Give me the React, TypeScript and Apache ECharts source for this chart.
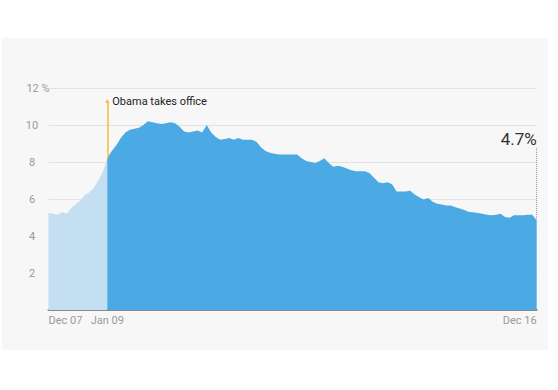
import React, { useEffect, useRef } from "react";
import * as echarts from "echarts";

const monthNames = ["Jan", "Feb", "Mar", "Apr", "May", "Jun", "Jul", "Aug", "Sep", "Oct", "Nov", "Dec"];
const startYear = 2007;
const startMonth = 11; // Dec
const unemployment = [
  5.25, 5.2, 5.15, 5.3, 5.2, 5.5, 5.7, 5.9, 6.2, 6.35, 6.6, 7.0, 7.45, 8.2,
  8.6, 8.9, 9.3, 9.6, 9.75, 9.8, 9.85, 10.0, 10.2, 10.15, 10.1, 10.05, 10.1, 10.15,
  10.1, 9.9, 9.65, 9.6, 9.65, 9.7, 9.6, 10.0, 9.6, 9.35, 9.2, 9.25, 9.3, 9.2,
  9.3, 9.2, 9.2, 9.2, 9.1, 8.8, 8.6, 8.5, 8.45, 8.4, 8.4, 8.4, 8.4, 8.4,
  8.2, 8.05, 8.0, 7.95, 8.05, 8.2, 7.95, 7.75, 7.8, 7.75, 7.65, 7.55, 7.5, 7.5,
  7.5, 7.4, 7.15, 6.9, 6.85, 6.9, 6.8, 6.4, 6.4, 6.4, 6.45, 6.25, 6.1, 5.97,
  6.05, 5.85, 5.75, 5.7, 5.65, 5.65, 5.55, 5.48, 5.4, 5.3, 5.28, 5.25, 5.2, 5.15,
  5.12, 5.15, 5.2, 5.03, 4.98, 5.12, 5.12, 5.12, 5.15, 5.15, 4.85,
];
const categories = unemployment.map((_, i) => {
  const m = startMonth + i;
  const y = startYear + Math.floor(m / 12);
  return `${monthNames[m % 12]} ${String(y % 100).padStart(2, "0")}`;
});
const obamaIndex = 13;
const shownLabels = [0, 13, unemployment.length - 1];
const annotationText = "Obama takes office";
const lastValueText = "4.7%";
const yTicks = [0, 2, 4, 6, 8, 10, 12];

export default function App() {
  const ref = useRef<HTMLDivElement>(null);
  useEffect(() => {
    if (!ref.current) return;
    const chart = echarts.init(ref.current, null, { renderer: "svg" });
    const lightData = unemployment.map((v, i) => (i <= obamaIndex ? v : null));
    const darkData = unemployment.map((v, i) => (i >= obamaIndex ? v : null));
    const last = categories[categories.length - 1];
    const font = "Roboto, 'Open Sans', sans-serif";
    chart.setOption({
      animation: false,
      backgroundColor: "transparent",
      textStyle: { fontFamily: font },
      grid: { left: 48.5, right: 21.3, top: 88, bottom: 80, containLabel: false },
      xAxis: {
        type: "category",
        data: categories,
        boundaryGap: false,
        axisLine: { show: true, lineStyle: { color: "#8a8a8a", width: 2 } },
        axisTick: { show: false },
        splitLine: { show: false },
        axisLabel: {
          show: true,
          interval: (idx: number) => shownLabels.includes(idx),
          color: "#9a9a9a",
          fontSize: 11,
          fontFamily: font,
          margin: 5,
          alignMinLabel: "left",
          alignMaxLabel: "right",
        },
      },
      yAxis: {
        type: "value",
        min: yTicks[0],
        max: yTicks[yTicks.length - 1],
        interval: 2,
        axisLine: { show: false },
        axisTick: { show: false },
        splitLine: { show: true, lineStyle: { color: "#e2e2e2", width: 1 } },
        axisLabel: {
          show: true,
          showMinLabel: false,
          align: "center",
          margin: 16.5,
          color: "#9a9a9a",
          fontSize: 11,
          fontFamily: font,
          formatter: (v: number) => (v === 12 ? "{p|12 %}" : String(v)),
          rich: {
            p: { padding: [0, 0, 0, 12], color: "#9a9a9a", fontSize: 11, fontFamily: font },
          },
        },
      },
      series: [
        {
          type: "line",
          data: lightData,
          showSymbol: false,
          symbol: "none",
          lineStyle: { width: 0 },
          areaStyle: { color: "#c5dff2", opacity: 1 },
          z: 2,
          markLine: {
            silent: true,
            symbol: ["none", "none"],
            label: { show: false },
            lineStyle: { type: "dotted", color: "#9a9a9a", width: 1 },
            data: [[{ coord: [last, 8.75] }, { coord: [last, 4.85] }]],
          },
          markPoint: {
            silent: true,
            symbol: "circle",
            symbolSize: 0,
            label: {
              show: true,
              position: "left",
              distance: 0,
              formatter: lastValueText,
              color: "#333333",
              fontSize: 17,
              fontFamily: font,
            },
            data: [{ coord: [last, 9.25] }],
          },
        },
        {
          type: "line",
          data: darkData,
          showSymbol: false,
          symbol: "none",
          lineStyle: { width: 0 },
          areaStyle: { color: "#4ba9e4", opacity: 1 },
          z: 3,
          markLine: {
            silent: true,
            symbol: ["triangle", "none"],
            symbolSize: 4,
            label: { show: false },
            lineStyle: { type: "solid", color: "#f3bd3a", width: 1.5, opacity: 1 },
            emphasis: { disabled: true },
            data: [[
              { coord: [categories[obamaIndex], 11.3] },
              { coord: [categories[obamaIndex], unemployment[obamaIndex]] },
            ]],
          },
          markPoint: {
            silent: true,
            symbol: "circle",
            symbolSize: 0,
            label: {
              show: true,
              position: "right",
              distance: 5,
              formatter: annotationText,
              color: "#222222",
              fontSize: 11,
              fontFamily: font,
            },
            data: [{ coord: [categories[obamaIndex], 11.25] }],
          },
        },
      ],
    });
    return () => chart.dispose();
  }, []);
  return (
    <div style={{ position: "fixed", left: 0, top: 0, width: 558, height: 390, background: "#ffffff" }}>
      <div style={{ position: "absolute", left: 2, top: 38, width: 546, height: 312, background: "#f7f7f7" }} />
      <div ref={ref} style={{ position: "absolute", left: 0, top: 0, width: 558, height: 390 }} />
    </div>
  );
}
